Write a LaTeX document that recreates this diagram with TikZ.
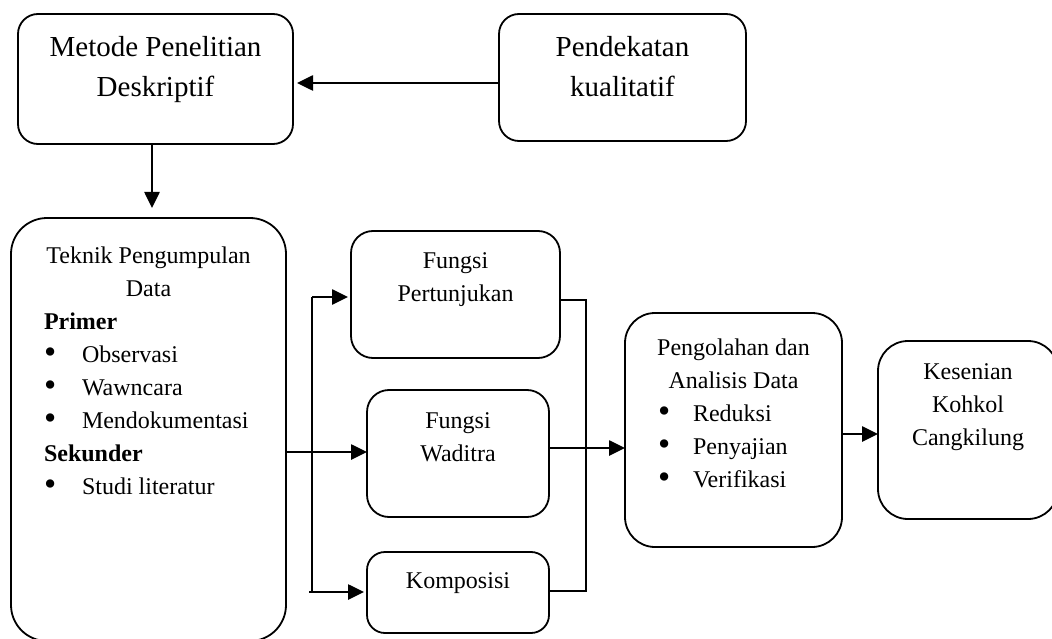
\documentclass[tikz,border=0pt]{standalone}
\usepackage{fontspec}
\setmainfont{Liberation Serif}
\usetikzlibrary{arrows.meta}
\newcommand{\bxc}[5]{\begin{minipage}[c][#2][t]{#1}\setlength{\parindent}{0pt}\setlength{\parskip}{0pt}#4\rule{0pt}{#3}#5\end{minipage}}
\newcommand{\mybul}[2]{\hspace*{#1}\makebox[#2][l]{\raisebox{-1.5pt}{\scalebox{1.45}{\textbullet}}}}
\newcommand{\fbig}{\fontsize{29}{40}\selectfont\centering}
\newcommand{\fmid}{\fontsize{24}{33}\selectfont\centering}
\newcommand{\flst}{\fontsize{24}{33}\selectfont}
\begin{document}
\begin{tikzpicture}[x=1pt,y=-1pt,
  box/.style={draw, line width=1.8pt, inner sep=0pt, outer sep=0pt, anchor=north west},
  arr/.style={line width=2.6pt, -{Triangle[length=16pt,width=15pt]}},
  ln/.style={line width=1.9pt}]
\useasboundingbox (0,0) rectangle (1052,639);
\clip (0,0) rectangle (1052,639);
\node[box, rounded corners=20pt] (metode) at (18,14)
  {\bxc{275pt}{130pt}{43pt}{\fbig}{Metode Penelitian\\Deskriptif}};
\node[box, rounded corners=20pt] (kual) at (499,14)
  {\bxc{247pt}{127pt}{43pt}{\fbig}{Pendekatan\\kualitatif}};
\node[box, rounded corners=36pt] (teknik) at (11,218)
  {\bxc{275pt}{423pt}{45pt}{\flst}{{\centering Teknik Pengumpulan\\Data\par}
   \hspace*{33pt}\textbf{Primer}\par
   \mybul{33pt}{38pt}Observasi\par
   \mybul{33pt}{38pt}Wawncara\par
   \mybul{33pt}{38pt}Mendokumentasi\par
   \hspace*{33pt}\textbf{Sekunder}\par
   \mybul{33pt}{38pt}Studi literatur\par}};
\node[box, rounded corners=22pt] (pert) at (351,231)
  {\bxc{209pt}{127pt}{37pt}{\fmid}{Fungsi\\Pertunjukan}};
\node[box, rounded corners=22pt] (wadi) at (367,390)
  {\bxc{182pt}{127pt}{38pt}{\fmid}{Fungsi\\Waditra}};
\node[box, rounded corners=18pt] (komp) at (367,552)
  {\bxc{182pt}{81pt}{36pt}{\fmid}{Komposisi}};
\node[box, rounded corners=30pt] (peng) at (625,313)
  {\bxc{217pt}{234pt}{42pt}{\flst}{{\centering Pengolahan dan\\Analisis Data\par}
   \mybul{33pt}{35pt}Reduksi\par
   \mybul{33pt}{35pt}Penyajian\par
   \mybul{33pt}{35pt}Verifikasi\par}};
\node[box, rounded corners=30pt] (kes) at (878,341)
  {\bxc{180pt}{178pt}{38pt}{\fmid}{Kesenian\\Kohkol\\Cangkilung}};
\coordinate (yA) at (0,83);
\coordinate (xB) at (152,0);
\coordinate (yW) at (0,452);
\coordinate (lbT) at (312,297);
\coordinate (lbB) at (312,592);
\coordinate (lbS) at (309,592);
\coordinate (rbT) at (586,300);
\coordinate (rbB) at (586,591);
\coordinate (yP) at (0,448);
\coordinate (yK) at (0,434);
\draw[arr, shorten >=4pt] (kual.west |- yA) -- (metode.east |- yA);
\draw[arr, shorten >=10pt] (metode.south -| xB) -- (teknik.north -| xB);
\draw[arr] (teknik.east |- yW) -- (wadi.west |- yW);
\draw[ln] (lbT) -- (lbB);
\draw[arr, shorten >=3pt] (lbT) -- (pert.west |- lbT);
\draw[arr, shorten >=3pt] (lbS) -- (komp.west |- lbS);
\draw[ln] (pert.east |- rbT) -- (rbT) -- (rbB) -- (komp.east |- rbB);
\draw[arr] (wadi.east |- yP) -- (peng.west |- yP);
\draw[arr] (peng.east |- yK) -- (kes.west |- yK);
\end{tikzpicture}
\end{document}
